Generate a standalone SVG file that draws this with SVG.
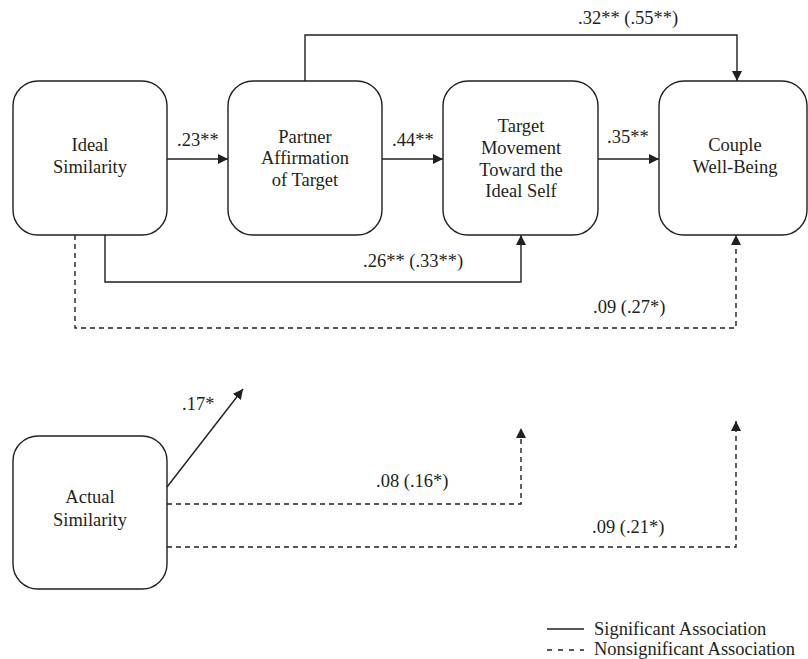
<svg xmlns="http://www.w3.org/2000/svg" width="808" height="659" viewBox="0 0 808 659">
<style>
  .box { fill: #ffffff; stroke: #231f20; stroke-width: 1.4; }
  .t { font-family: "Liberation Serif", "Times New Roman", serif; font-size: 18.5px; fill: #231f20; }
  .c { text-anchor: middle; }
  .solid { fill: none; stroke: #231f20; stroke-width: 1.4; }
  .dash { fill: none; stroke: #231f20; stroke-width: 1.4; stroke-dasharray: 5 4; }
  .arr { marker-end: url(#ah); }
</style>
<defs>
  <marker id="ah" markerUnits="userSpaceOnUse" markerWidth="11" markerHeight="11" refX="10" refY="5" orient="auto">
    <path d="M0,0 L10,5 L0,10 Z" fill="#231f20" stroke="none"/>
  </marker>
</defs>
<rect width="808" height="659" fill="#ffffff"/>

<g id="ideal-similarity">
  <rect class="box" x="13" y="81" width="154" height="154" rx="25" ry="25"/>
  <text class="t c" x="90" y="150.5">Ideal</text>
  <text class="t c" x="90" y="173">Similarity</text>
</g>
<g id="partner-affirmation">
  <rect class="box" x="228" y="81" width="154" height="154" rx="25" ry="25"/>
  <text class="t c" x="305" y="142.5">Partner</text>
  <text class="t c" x="305" y="164">Affirmation</text>
  <text class="t c" x="305" y="185.5">of Target</text>
</g>
<g id="target-movement">
  <rect class="box" x="443" y="81" width="155" height="154" rx="25" ry="25"/>
  <text class="t c" x="521" y="131.5">Target</text>
  <text class="t c" x="521" y="154">Movement</text>
  <text class="t c" x="521" y="175.5">Toward the</text>
  <text class="t c" x="521" y="197">Ideal Self</text>
</g>
<g id="couple-well-being">
  <rect class="box" x="659" y="81" width="148" height="154" rx="25" ry="25"/>
  <text class="t c" x="735" y="150.5">Couple</text>
  <text class="t c" x="735" y="173">Well-Being</text>
</g>
<g id="actual-similarity">
  <rect class="box" x="13" y="436" width="154" height="153" rx="25" ry="25"/>
  <text class="t c" x="90" y="503">Actual</text>
  <text class="t c" x="90" y="526">Similarity</text>
</g>

<g id="connectors">
  <path class="solid arr" d="M167,159 H228"/>
  <path class="solid arr" d="M382,159 H443"/>
  <path class="solid arr" d="M598,159 H659"/>
  <path class="solid arr" d="M305,81 V35 H737 V81"/>
  <path class="solid arr" d="M105,235 V282 H521 V235"/>
  <path class="dash arr" d="M75,235 V328 H736 V235"/>
  <path class="solid arr" d="M167,487 L243,389"/>
  <path class="dash arr" d="M167,504 H521 V428"/>
  <path class="dash arr" d="M167,547 H736 V421"/>
</g>

<g id="labels">
  <text class="t" x="177" y="146">.23**</text>
  <text class="t" x="392" y="146">.44**</text>
  <text class="t" x="607" y="143">.35**</text>
  <text class="t" x="578" y="24">.32** (.55**)</text>
  <text class="t" x="363" y="267">.26** (.33**)</text>
  <text class="t" x="593" y="313">.09 (.27*)</text>
  <text class="t" x="182" y="410">.17*</text>
  <text class="t" x="376" y="487">.08 (.16*)</text>
  <text class="t" x="592" y="533">.09 (.21*)</text>
</g>

<g id="legend">
  <line class="solid" x1="547" y1="629" x2="584" y2="629"/>
  <text class="t" x="594" y="635">Significant Association</text>
  <line class="solid" x1="547" y1="650" x2="584" y2="650" stroke-dasharray="5 6"/>
  <text class="t" x="594" y="655">Nonsignificant Association</text>
</g>
</svg>
